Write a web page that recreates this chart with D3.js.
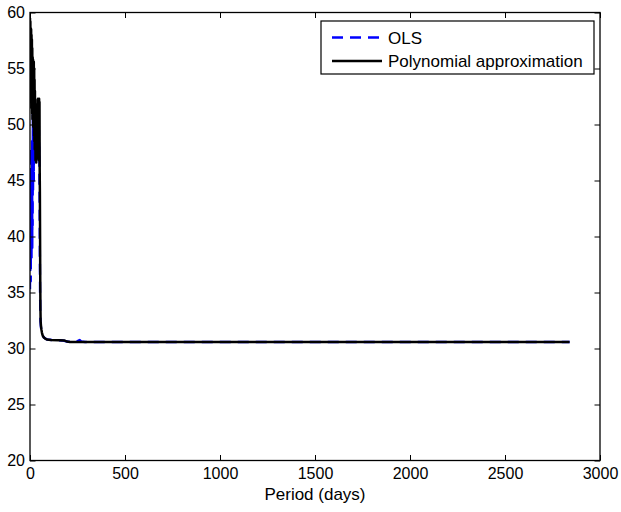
<!DOCTYPE html>
<html><head><meta charset="utf-8">
<script src="https://cdn.jsdelivr.net/npm/d3@7"></script>
<style>body{margin:0;background:#fff}svg{display:block}text{font-family:"Liberation Sans",Arial,sans-serif;fill:#000}</style>
</head><body>
<script>
// ---- data ----
const olsDays = [0,1,2,3,4,5,6,7,8,9,10,11,12,13,14,15,16,17,18,19,20,21,22,23,24,25,26,27,28,29,30,31,32,33,34,35,36,37,38,39,40,41,42,43,44,45,46,47,48,49,50,51,52,53,54,55,57,60,65,75,90,120,170,200,240,255,262,270,290,2840];
const olsValues = [35.3,47.8,37,46,36,48,39,47,38,45,40.5,48.5,39,47.5,41,51,44,50,46,49.5,45,50.5,47,51.5,46.5,50,47,49.8,46.8,50.5,47.2,49.5,46.6,50,47.5,49.5,47,50.5,48,51,48.5,50.8,48,50.5,47.5,50,46.8,49.5,47,48,45,42,38,35,33.5,32.5,32,31.6,31.2,30.95,30.8,30.75,30.72,30.6,30.6,30.7,30.76,30.62,30.58,30.58];
const polyDays = [0,1,2,3,4,5,6,7,8,9,10,11,12,13,14,15,16,17,18,19,20,21,22,23,24,25,26,27,28,29,30,31,32,33,34,35,36,37,38,39,40,41,42,43,44,45,46,47,48,49,50,51,52,53,54,55,56,58,60,63,67,72,80,90,110,150,180,195,210,2840];
const polyValues = [59.5,53,59.2,52,58.6,54,58.5,51.5,58,52.5,57.6,51,56.8,50.5,56,51.5,55.8,49.8,55.5,50.5,55.6,49,55,48.5,54,47.8,53,48,51.5,46.8,50.5,47.2,49.8,46.6,49,47.5,50.5,47,51.8,47.8,52.2,48.5,52.3,48,52,47.5,51.8,46.8,52.3,47,52,46,44,40,36,33.5,32.4,32,31.7,31.4,31.15,31,30.88,30.8,30.76,30.74,30.72,30.62,30.58,30.58];
const xTicks = [0,500,1000,1500,2000,2500,3000];
const yTicks = [20,25,30,35,40,45,50,55,60];
const seriesNames = ["OLS","Polynomial approximation"];
const xLabel = "Period (days)";

// ---- layout ----
const W = 621, H = 512;
const L = 30, R = 600, T = 12.5, B = 460.5;
const svg = d3.select("body").append("svg").attr("width", W).attr("height", H);
const x = d3.scaleLinear().domain([0,3000]).range([L,R]);
const y = d3.scaleLinear().domain([20,60]).range([B,T]);

const line = d3.line().x(d => x(d[0])).y(d => y(d[1]));
const ols = olsDays.map((d,i) => [d, olsValues[i]]);
const poly = polyDays.map((d,i) => [d, polyValues[i]]);

svg.append("clipPath").attr("id","c").append("rect")
  .attr("x",L).attr("y",T).attr("width",R-L).attr("height",B-T);
const g = svg.append("g").attr("clip-path","url(#c)");
g.append("path").attr("d", line(ols)).attr("fill","none").attr("stroke","#0000ff")
  .attr("stroke-width",2.4).attr("stroke-dasharray","11,7").attr("stroke-linejoin","round");
g.append("path").attr("d", line(poly)).attr("fill","none").attr("stroke","#000")
  .attr("stroke-width",2.5).attr("stroke-linejoin","round");

// axes (MATLAB box with inward ticks)
const tl = 5.5;
const fs = 16;
const ax = svg.append("g").attr("transform",`translate(0,${B})`)
  .call(d3.axisBottom(x).tickValues(xTicks).tickSizeInner(-tl).tickSizeOuter(0).tickPadding(6).tickFormat(d3.format("d")));
const axT = svg.append("g").attr("transform",`translate(0,${T})`)
  .call(d3.axisTop(x).tickValues(xTicks).tickSizeInner(-tl).tickSizeOuter(0).tickFormat(""));
const ay = svg.append("g").attr("transform",`translate(${L},0)`)
  .call(d3.axisLeft(y).tickValues(yTicks).tickSizeInner(-tl).tickSizeOuter(0).tickPadding(5).tickFormat(d3.format("d")));
const ayR = svg.append("g").attr("transform",`translate(${R},0)`)
  .call(d3.axisRight(y).tickValues(yTicks).tickSizeInner(-tl).tickSizeOuter(0).tickFormat(""));
[ax,axT,ay,ayR].forEach(a => {
  a.select(".domain").remove();
  a.selectAll("line").attr("stroke","#000").attr("stroke-width",1);
  a.selectAll("text").attr("font-size",fs).attr("font-family","Liberation Sans, Arial, sans-serif");
});
ax.selectAll("text").attr("dy","0.85em").attr("y",5);
svg.append("rect").attr("x",L).attr("y",T).attr("width",R-L).attr("height",B-T)
  .attr("fill","none").attr("stroke","#000").attr("stroke-width",1.3);

svg.append("text").attr("x",(L+R)/2).attr("y",500).attr("text-anchor","middle")
  .attr("font-size",17).text(xLabel);

// legend
const lg = svg.append("g");
lg.append("rect").attr("x",321).attr("y",21).attr("width",273).attr("height",53)
  .attr("fill","#fff").attr("stroke","#000").attr("stroke-width",1.2);
lg.append("line").attr("x1",332).attr("x2",382).attr("y1",37.5).attr("y2",37.5)
  .attr("stroke","#0000ff").attr("stroke-width",2.4).attr("stroke-dasharray","11,7");
lg.append("line").attr("x1",332).attr("x2",382).attr("y1",61).attr("y2",61)
  .attr("stroke","#000").attr("stroke-width",2.5);
lg.append("text").attr("x",388).attr("y",43.5).attr("font-size",17).text(seriesNames[0]);
lg.append("text").attr("x",388).attr("y",67).attr("font-size",17).text(seriesNames[1]);
</script>
</body></html>
